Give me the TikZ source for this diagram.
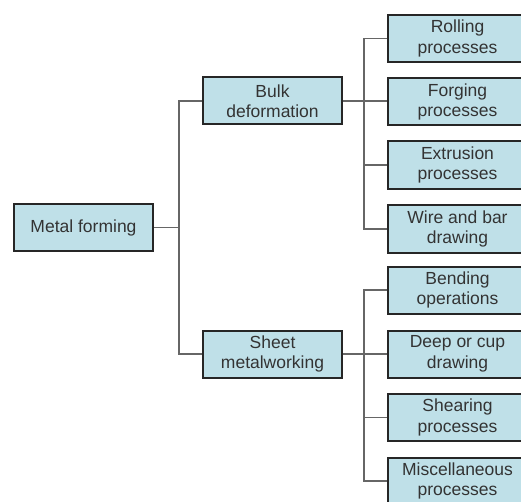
\documentclass[tikz,border=0pt]{standalone}
\usepackage{fontspec}
\setmainfont{Liberation Sans}
\begin{document}
\begin{tikzpicture}[x=1bp,y=-1bp,
  box/.style={draw=black!85, line width=2bp, fill=boxfill, minimum width=139bp, minimum height=47bp,
    inner sep=0pt, align=center, text=black!80, font=\fontsize{17.5bp}{20.5bp}\selectfont},
  conn/.style={draw=black!60, line width=1.3bp}]
\definecolor{boxfill}{HTML}{BFE0E8}
\useasboundingbox (0,0) rectangle (521,502);
\clip (0,0) rectangle (521,502);
\node[box] (mf) at (83.5,227.5) {Metal forming};
\node[box] (bulk) at (272.5,101) {Bulk\\deformation};
\node[box] (sheet) at (272.5,354) {Sheet\\metalworking};
\node[box] (r1) at (457.5,38.5) {Rolling\\processes};
\node[box] (r2) at (457.5,102) {Forging\\processes};
\node[box] (r3) at (457.5,165) {Extrusion\\processes};
\node[box] (r4) at (457.5,229) {Wire and bar\\drawing};
\node[box] (r5) at (457.5,290) {Bending\\operations};
\node[box] (r6) at (457.5,354) {Deep or cup\\drawing};
\node[box] (r7) at (457.5,417.5) {Shearing\\processes};
\node[box] (r8) at (457.5,481) {Miscellaneous\\processes};
\coordinate (j1) at (179,0);
\coordinate (j2) at (364,0);
\draw[conn] (mf.east) -- (mf.east -| j1);
\draw[conn] (bulk.west) -- (bulk.west -| j1) |- (sheet.west);
\draw[conn] (bulk.east) -- (bulk.east -| r2.west);
\draw[conn] (r1.west) -- (r1.west -| j2) |- (r4.west);
\draw[conn] (r3.west) -- (r3.west -| j2);
\draw[conn] (sheet.east) -- (r6.west);
\draw[conn] (r5.west) -- (r5.west -| j2) |- (r8.west);
\draw[conn] (r7.west) -- (r7.west -| j2);
\end{tikzpicture}
\end{document}
